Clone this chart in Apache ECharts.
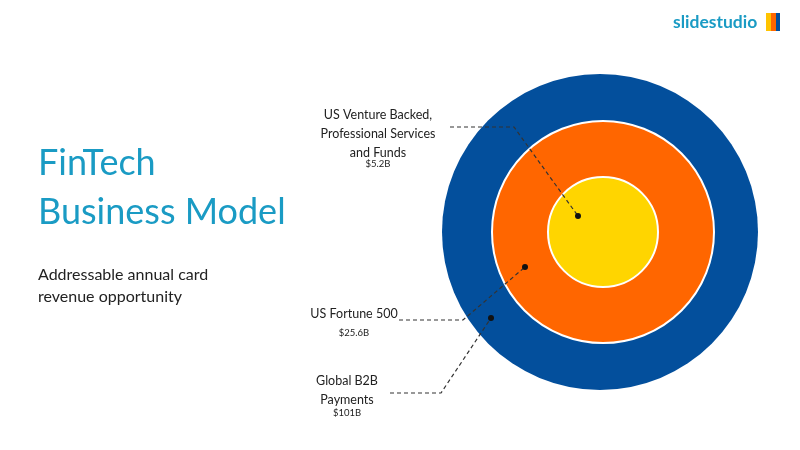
<!DOCTYPE html><html><head><meta charset="utf-8"><script src="https://cdn.jsdelivr.net/npm/echarts@6/dist/echarts.min.js"></script>
<style>html,body{margin:0;padding:0;background:#fff}#c{width:800px;height:450px}</style></head><body><div id="c"></div><script>
const segments = ['Global B2B Payments', 'US Fortune 500', 'US Venture Backed, Professional Services and Funds'];
const valuesB = [101, 25.6, 5.2];
const valueLabels = ['$101B', '$25.6B', '$5.2B'];
const colors = ['#034f9c', '#ff6600', '#ffd500'];
const radii = [158, 111, 55];
const chart = echarts.init(document.getElementById('c'));
const series = segments.map((s, i) => ({
  type: 'pie', center: [i ? 603 : 600, 232], radius: [0, radii[i]], silent: true, z: 2 + i,
  label: {show: false}, labelLine: {show: false}, animation: false,
  itemStyle: {color: colors[i], borderColor: i ? '#fff' : colors[i], borderWidth: i ? 2 : 0},
  data: [{name: s, value: valuesB[i]}]
}));
const ff = 'Lato, sans-serif';
const dash = {stroke: '#333', lineWidth: 1.2, lineDash: [4, 3]};
const leader = (pts, dot) => [
  {type: 'polyline', shape: {points: pts}, style: Object.assign({fill: null}, dash), z: 20},
  {type: 'circle', shape: {cx: dot[0], cy: dot[1], r: 3}, style: {fill: '#111'}, z: 21}
];
const txt = (x, y, t, size, color, align, extra) => ({type: 'text', x: x, y: y, z: 30,
  style: Object.assign({text: t, font: (extra||'') + ' ' + size + 'px ' + ff, fill: color, align: align || 'center', verticalAlign: 'middle'})});
chart.setOption({
  series: series,
  graphic: [
    txt(38, 163, 'FinTech', 36, '#1a9bc4', 'left'),
    txt(38, 212, 'Business Model', 36, '#1a9bc4', 'left'),
    txt(38, 275, 'Addressable annual card', 16, '#222', 'left'),
    txt(38, 297, 'revenue opportunity', 16, '#222', 'left'),
    txt(378, 115, 'US Venture Backed,', 12.5, '#222'),
    txt(378, 134, 'Professional Services', 12.5, '#222'),
    txt(378, 153, 'and Funds', 12.5, '#222'),
    txt(378, 164, valueLabels[2], 9.5, '#222'),
    txt(354, 314, 'US Fortune 500', 12.5, '#222'),
    txt(354, 333, valueLabels[1], 9.5, '#222'),
    txt(347, 381, 'Global B2B', 12.5, '#222'),
    txt(347, 400, 'Payments', 12.5, '#222'),
    txt(347, 413, valueLabels[0], 9.5, '#222'),
    ...leader([[450, 127], [514, 127], [578, 216]], [578, 216]),
    ...leader([[399, 320], [463, 320], [525, 267]], [525, 267]),
    ...leader([[390, 393], [441, 393], [491, 318]], [491, 318]),
    txt(673, 22, 'slidestudio', 17.5, '#1a9bc4', 'left', 'bold'),
    {type: 'rect', shape: {x: 766, y: 13, width: 5, height: 18}, style: {fill: '#ffc400'}, z: 30},
    {type: 'rect', shape: {x: 771, y: 13, width: 5, height: 18}, style: {fill: '#ff6600'}, z: 30},
    {type: 'rect', shape: {x: 776, y: 13, width: 4, height: 18}, style: {fill: '#034f9c'}, z: 30}
  ]
});
</script></body></html>
